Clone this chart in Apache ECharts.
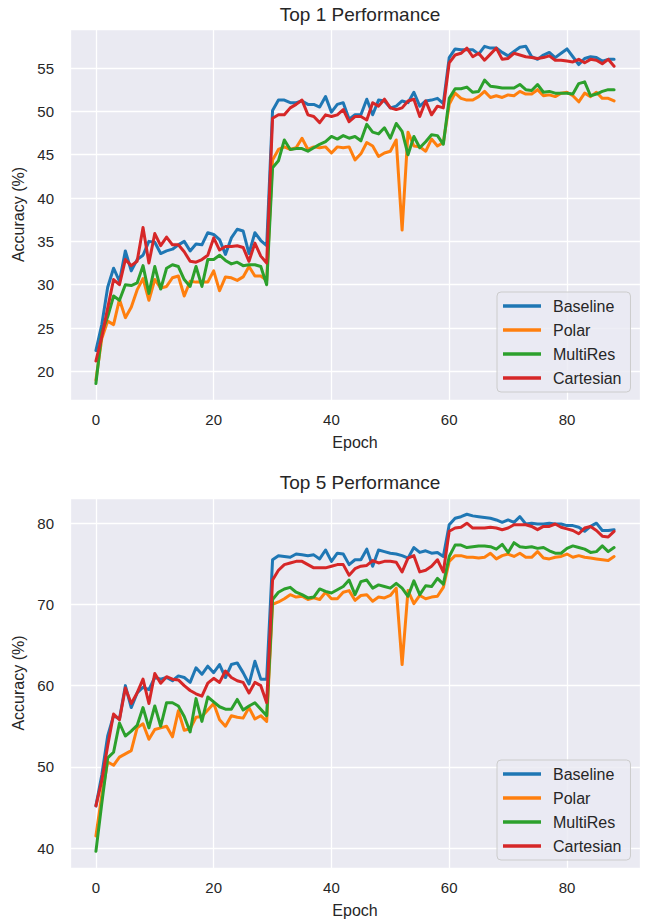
<!DOCTYPE html>
<html>
<head>
<meta charset="utf-8">
<script src="https://cdn.jsdelivr.net/npm/echarts@6/dist/echarts.min.js"></script>
<style>
html,body{margin:0;padding:0;background:#ffffff;}
#chart{width:646px;height:919px;}
</style>
</head>
<body>
<div id="chart"></div>
<script>
// ---------- DATA ----------
const seriesNames = ['Baseline', 'Polar', 'MultiRes', 'Cartesian'];
const chartTitles = ['Top 1 Performance', 'Top 5 Performance'];
const xTickStep = 20;
const yTickSteps = [5, 10];

const top1Baseline = [
  22.4, 25.4, 29.7, 31.9, 30.4, 33.9, 31.6, 32.9, 33.4, 35.0, 34.9, 33.6, 33.9, 34.1, 34.6, 35.0, 33.9, 34.7, 34.6, 36.0, 35.8, 35.2, 33.5, 35.4, 36.4, 36.2, 33.6, 36.0, 35.1, 34.5,
  50.1, 51.3, 51.3, 51.0, 51.0, 51.2, 50.8, 50.8, 50.5, 51.7, 49.9, 50.8, 51.0, 49.1, 49.6, 49.6, 51.4, 49.6, 51.3, 51.2, 50.4, 50.6, 51.2, 51.0, 52.2, 50.6, 51.2, 51.3, 51.5, 50.9,
  56.2, 57.2, 57.1, 57.1, 57.1, 56.6, 57.5, 57.3, 57.3, 56.8, 56.4, 56.9, 57.4, 57.5, 56.3, 56.0, 56.5, 56.8, 56.2, 56.7, 57.2, 56.3, 55.4, 56.1, 56.3, 56.2, 55.8, 56.0, 56.0
];
const top1Polar = [
  19.0, 23.8, 25.8, 25.4, 28.3, 26.2, 27.4, 29.4, 30.7, 28.2, 30.6, 29.6, 29.8, 30.8, 31.0, 28.7, 30.4, 30.3, 30.3, 30.3, 31.6, 29.3, 30.9, 30.8, 30.5, 30.9, 32.1, 31.0, 31.0, 30.5,
  44.4, 45.6, 45.9, 45.6, 45.8, 46.9, 45.6, 45.9, 45.8, 45.9, 45.2, 45.9, 45.8, 45.9, 44.4, 45.1, 46.4, 46.0, 44.8, 45.2, 45.4, 46.7, 36.3, 47.6, 46.0, 45.9, 45.4, 46.8, 46.0, 46.4,
  50.8, 52.1, 51.5, 51.3, 51.3, 51.7, 52.3, 51.6, 51.8, 51.6, 51.9, 51.8, 52.3, 52.0, 52.0, 52.5, 51.8, 51.9, 51.7, 52.1, 52.2, 51.8, 51.1, 52.1, 51.7, 52.2, 51.5, 51.5, 51.2
];
const top1MultiRes = [
  18.6, 24.5, 26.3, 28.7, 28.2, 30.0, 29.9, 30.2, 32.2, 29.0, 32.1, 29.5, 31.9, 32.3, 32.1, 30.6, 29.8, 32.1, 29.8, 32.9, 32.9, 33.4, 32.8, 32.4, 32.6, 32.2, 32.3, 32.3, 32.1, 30.0,
  43.5, 44.3, 46.7, 45.6, 45.7, 45.7, 45.4, 45.8, 46.2, 46.5, 47.1, 46.8, 47.2, 46.9, 47.1, 46.6, 48.5, 47.6, 47.4, 48.1, 46.9, 48.6, 47.7, 45.0, 47.1, 45.8, 46.5, 47.3, 47.2, 46.2,
  51.5, 52.6, 52.6, 52.8, 52.2, 52.3, 53.6, 52.9, 52.8, 52.7, 52.7, 52.7, 53.1, 52.5, 52.4, 53.1, 52.2, 52.3, 52.1, 52.1, 52.1, 52.0, 53.2, 53.4, 51.8, 52.0, 52.3, 52.5, 52.5
];
const top1Cartesian = [
  21.2, 24.0, 27.3, 30.6, 30.0, 32.9, 32.2, 32.7, 36.6, 32.5, 35.9, 34.5, 35.5, 34.6, 34.6, 33.8, 32.7, 32.6, 32.9, 33.4, 35.4, 34.0, 34.4, 34.4, 34.5, 34.3, 32.7, 34.8, 33.3, 32.5,
  49.2, 49.6, 49.6, 50.4, 50.8, 51.3, 49.6, 49.4, 48.7, 49.6, 49.4, 49.6, 50.2, 48.8, 49.4, 49.4, 49.0, 51.0, 50.6, 51.4, 50.4, 50.2, 50.4, 51.2, 51.4, 49.4, 51.2, 49.6, 50.6, 50.4,
  55.6, 56.5, 56.7, 57.3, 56.3, 56.7, 55.9, 56.6, 57.3, 56.0, 56.1, 56.7, 56.5, 56.3, 56.2, 56.1, 56.2, 56.4, 55.9, 55.9, 55.8, 55.7, 56.0, 55.6, 56.0, 55.9, 55.5, 56.0, 55.2
];

const top5Baseline = [
  45.2, 49.0, 53.8, 56.3, 55.9, 60.0, 57.3, 59.1, 59.8, 59.5, 61.0, 60.8, 61.0, 60.6, 61.2, 61.0, 60.4, 62.2, 61.4, 62.4, 61.6, 62.6, 61.0, 62.6, 62.8, 61.6, 60.2, 63.0, 60.8, 60.8,
  75.5, 76.0, 75.9, 75.8, 76.2, 76.1, 76.0, 76.1, 75.6, 76.7, 75.3, 76.3, 76.2, 74.9, 75.5, 75.5, 76.8, 74.7, 76.7, 76.5, 76.3, 76.2, 76.0, 75.7, 77.0, 76.4, 76.6, 76.3, 76.4, 75.9,
  79.8, 80.6, 80.8, 81.1, 80.9, 80.8, 80.7, 80.6, 80.4, 80.1, 80.4, 80.1, 80.8, 79.9, 80.0, 79.9, 79.9, 80.0, 79.9, 79.9, 79.7, 79.7, 79.5, 79.0, 79.6, 80.0, 79.1, 79.1, 79.2
];
const top5Polar = [
  41.5, 46.5, 50.6, 50.2, 51.2, 51.6, 52.0, 54.8, 55.3, 53.4, 54.6, 54.8, 55.0, 53.7, 56.9, 54.5, 54.7, 56.1, 56.2, 57.0, 57.8, 55.8, 55.0, 56.3, 56.1, 56.0, 57.3, 55.9, 56.3, 55.6,
  70.0, 70.3, 70.7, 71.2, 70.9, 71.0, 70.6, 70.8, 70.6, 71.5, 70.7, 70.7, 71.5, 71.7, 70.5, 71.1, 71.2, 70.4, 70.9, 70.8, 71.1, 72.0, 62.6, 71.7, 70.1, 71.1, 70.7, 70.9, 71.0, 72.1,
  75.3, 76.0, 76.0, 75.8, 75.8, 75.7, 75.8, 76.3, 75.6, 76.0, 76.2, 75.9, 76.3, 75.8, 75.8, 76.5, 75.7, 75.6, 75.8, 75.9, 76.2, 75.8, 76.0, 75.8, 75.7, 75.6, 75.5, 75.4, 75.9
];
const top5MultiRes = [
  39.6, 45.5, 51.1, 51.8, 55.4, 53.8, 54.4, 55.1, 57.3, 54.8, 57.5, 55.0, 57.9, 57.9, 57.5, 56.2, 54.3, 58.4, 55.6, 58.6, 58.0, 57.4, 57.1, 57.1, 58.3, 57.0, 57.5, 57.9, 57.1, 56.3,
  70.6, 71.5, 71.9, 72.1, 71.5, 71.2, 70.8, 70.9, 71.9, 71.6, 71.4, 71.8, 72.2, 73.0, 71.2, 72.8, 73.0, 72.0, 72.4, 72.2, 72.0, 72.6, 72.0, 71.0, 72.9, 71.2, 72.3, 72.2, 73.2, 72.5,
  75.9, 77.3, 77.3, 77.0, 77.1, 77.2, 77.2, 77.1, 76.8, 77.4, 76.4, 77.6, 77.1, 77.0, 77.1, 76.9, 77.0, 76.6, 76.3, 76.3, 76.9, 77.2, 77.0, 76.8, 76.4, 76.5, 77.2, 76.5, 77.0
];
const top5Cartesian = [
  45.2, 48.3, 52.6, 56.5, 55.8, 59.7, 57.8, 59.1, 60.8, 57.8, 61.5, 60.3, 61.1, 60.8, 60.7, 60.0, 59.4, 59.0, 58.7, 60.3, 60.9, 60.4, 61.8, 61.0, 60.6, 60.4, 59.1, 60.4, 60.0, 57.9,
  73.0, 74.2, 74.9, 75.1, 75.3, 75.3, 74.9, 74.5, 74.5, 74.5, 74.7, 74.9, 74.9, 73.6, 74.4, 74.7, 74.8, 75.4, 75.1, 75.3, 75.3, 75.2, 74.0, 75.7, 76.0, 74.0, 74.2, 74.7, 75.5, 74.0,
  79.0, 79.4, 79.5, 80.0, 79.4, 79.4, 79.4, 79.5, 79.4, 79.2, 79.4, 79.8, 79.8, 79.8, 79.6, 79.2, 79.6, 79.6, 79.9, 79.5, 79.3, 79.1, 78.7, 79.4, 79.6, 79.1, 78.4, 78.3, 79.0
];

const epochs = top1Baseline.map((_, i) => i);

// ---------- STYLE / LAYOUT ----------
const colors = ['#1f77b4', '#ff7f0e', '#2ca02c', '#d62728'];
const FONT = '"Liberation Sans", Arial, sans-serif';
const TXT = '#262626';
const gridTops = [29, 498];
const gridH = 371;
const yRanges = [[16.7, 59.5], [37.55, 83.1]];
const ySplit = [8, 4];
const legendTops = [292, 760];
const titleTops = [0, 468];

const seriesData = [
  [top1Baseline, top1Polar, top1MultiRes, top1Cartesian],
  [top5Baseline, top5Polar, top5MultiRes, top5Cartesian]
];

function isMultiple(v, step) {
  const r = v / step;
  return Math.abs(r - Math.round(r)) < 1e-6;
}

const grids = [], xAxes = [], yAxes = [], series = [], titles = [], legends = [];
for (let c = 0; c < 2; c++) {
  grids.push({
    left: 70, top: gridTops[c], width: 570, height: gridH,
    show: true, backgroundColor: '#EAEAF2', borderWidth: 0, containLabel: false
  });
  xAxes.push({
    type: 'value', gridIndex: c, min: -4.4, max: 92.4, splitNumber: 5,
    name: 'Epoch', nameLocation: 'middle', nameGap: 34,
    nameTextStyle: { fontFamily: FONT, fontSize: 16, color: TXT },
    axisLine: { show: false }, axisTick: { show: false },
    axisLabel: {
      margin: 12, fontFamily: FONT, fontSize: 15, color: TXT,
      showMinLabel: false, showMaxLabel: false,
      formatter: v => isMultiple(v, xTickStep) ? String(Math.round(v)) : ''
    },
    splitLine: { show: true, lineStyle: { color: '#ffffff', width: 1.3 } }
  });
  yAxes.push({
    type: 'value', gridIndex: c, min: yRanges[c][0], max: yRanges[c][1], splitNumber: ySplit[c],
    name: 'Accuracy (%)', nameLocation: 'middle', nameGap: 37,
    nameTextStyle: { fontFamily: FONT, fontSize: 16, color: TXT },
    axisLine: { show: false }, axisTick: { show: false },
    axisLabel: {
      margin: 16, fontFamily: FONT, fontSize: 15, color: TXT,
      showMinLabel: false, showMaxLabel: false,
      formatter: v => isMultiple(v, yTickSteps[c]) ? String(Math.round(v)) : ''
    },
    splitLine: { show: true, lineStyle: { color: '#ffffff', width: 1.3 } }
  });
  titles.push({
    text: chartTitles[c], left: 355, top: titleTops[c], textAlign: 'center',
    textStyle: { fontFamily: FONT, fontSize: 19, fontWeight: 'normal', color: TXT }
  });
  legends.push({
    data: seriesNames, orient: 'vertical', left: 497, top: legendTops[c],
    icon: 'rect', itemWidth: 38, itemHeight: 3.5, itemGap: 8,
    padding: [6, 9, 6, 6],
    backgroundColor: 'rgba(234,234,242,0.8)', borderColor: '#cccccc', borderWidth: 1, borderRadius: 4,
    selectedMode: false,
    textStyle: { fontFamily: FONT, fontSize: 16, color: TXT, lineHeight: 16, padding: [0, 0, 0, 7] }
  });
  for (let s = 0; s < 4; s++) {
    series.push({
      type: 'line', name: seriesNames[s], xAxisIndex: c, yAxisIndex: c,
      data: seriesData[c][s].map((v, i) => [epochs[i], v]),
      showSymbol: false, symbol: 'none', z: 2 + s,
      lineStyle: { width: 3, color: colors[s], cap: 'round', join: 'round' },
      itemStyle: { color: colors[s] },
      emphasis: { disabled: true }, silent: true
    });
  }
}

const chart = echarts.init(document.getElementById('chart'), null, { renderer: 'svg' });
chart.setOption({
  animation: false,
  backgroundColor: '#ffffff',
  color: colors,
  title: titles,
  legend: legends,
  grid: grids,
  xAxis: xAxes,
  yAxis: yAxes,
  series: series
});
</script>
</body>
</html>
